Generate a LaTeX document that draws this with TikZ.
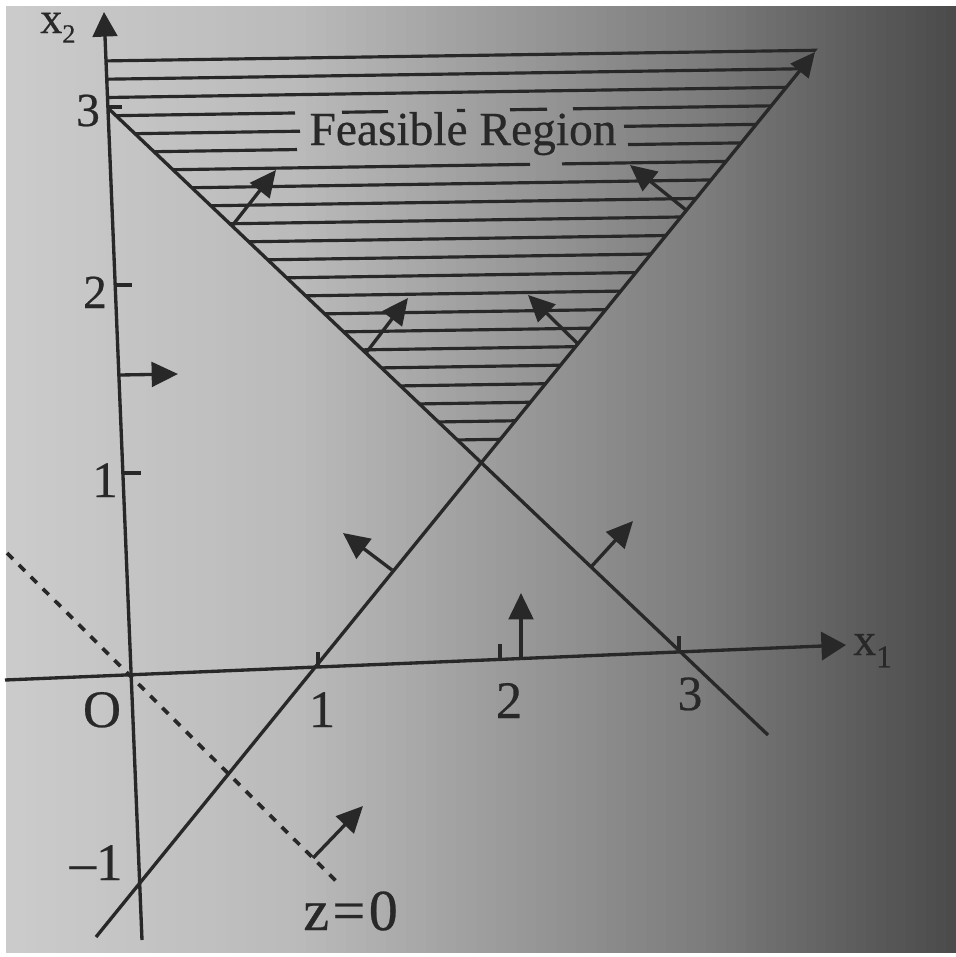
\documentclass[tikz,border=0pt]{standalone}
\usepackage{fontspec}
\setmainfont{Liberation Serif}[FakeBold=0.5]
\usetikzlibrary{arrows.meta}
\definecolor{ink}{HTML}{282828}
\newcommand\hy[2]{58+18.3*#1-0.015*(#2-300)}
\begin{document}
\begin{tikzpicture}[x=0.02cm, y=-0.02cm,
  ln/.style={draw=ink, line width=1.9pt},
  hatch/.style={draw=ink, line width=1.8pt},
  nrm/.style={draw=ink, line width=1.9pt, -{Triangle[length=15pt,width=14pt]}},
  lbl/.style={text=ink, inner sep=0pt},
]
\useasboundingbox (0,0) rectangle (956,957);
\fill[white] (0,0) rectangle (956,957);
% photographed paper background
\foreach \i in {0,...,94} {
  \pgfmathsetmacro{\xx}{6+\i*10+5}
  \pgfmathsetmacro{\g}{\xx<300 ? 0.80-0.07*\xx/300 : (\xx<500 ? 0.73-0.12*(\xx-300)/200 : (\xx<700 ? 0.61-0.12*(\xx-500)/200 : (\xx<850 ? 0.49-0.12*(\xx-700)/150 : 0.37-0.08*(\xx-850)/106)))}
  \definecolor{bgc}{gray}{\g}
  \fill[bgc] ({6+\i*10},6) rectangle ({6+\i*10+10.6},953);
}
% key points
\coordinate (x1s) at (5,680);
\coordinate (x1e) at (846,645);
\coordinate (x2s) at (142,940);
\coordinate (x2e) at (104,12);
\coordinate (L1a) at (96,937);
\coordinate (L1b) at (815,52);
\coordinate (L2a) at (109,109);
\coordinate (L2b) at (768,735);
\coordinate (P) at (481.3,462.7);
\coordinate (D1) at (7,553);
\coordinate (D2) at (340,885);
% hatching of the feasible region
\begin{scope}
\clip (104.5,30) -- (833,30) -- (P) -- (L2a) -- cycle;
\foreach \k in {0,1,2} {\draw[hatch] (90,{\hy{\k}{90}}) -- (850,{\hy{\k}{850}});}
\foreach \k in {7,...,21} {\draw[hatch] (90,{\hy{\k}{90}}) -- (850,{\hy{\k}{850}});}
\foreach \k/\a/\b in {3/90/295, 3/342/388, 3/457/465, 3/510/547, 3/573/850,
                      4/90/300, 4/624/850, 5/90/297, 5/628/850,
                      6/90/530, 6/562/850}
  {\draw[hatch] (\a,{\hy{\k}{\a}}) -- (\b,{\hy{\k}{\b}});}
\end{scope}
\node[lbl, anchor=base] (fr) at (463,145) {\fontsize{27}{30}\selectfont Feasible Region};
% axes
\draw[ln, -{Triangle[length=14pt,width=16pt]}] (x1s) -- (x1e);
\draw[ln, -{Triangle[length=14pt,width=14pt]}] (x2s) -- (x2e);
% ticks
\draw[ln] (318,667) -- (318,652);
\draw[ln] (500,659.4) -- (500,644);
\draw[ln] (679,652) -- (679,636);
\draw[ln] (107.9,107) -- (122,107);
\draw[ln] (115.2,285) -- (132,285);
\draw[ln] (122.9,473) -- (141,473);
% constraint lines
\draw[ln, -{Triangle[length=14pt,width=13pt]}] (L1a) -- (L1b);
\draw[ln] (L2a) -- (L2b);
\draw[ink, line width=2.1pt, dash pattern=on 4.8pt off 4.8pt] (D1) -- (D2);
% direction arrows
\coordinate (a1s) at (120,375);   \coordinate (a1e) at (178,374);
\coordinate (a2s) at (232,226);   \coordinate (a2e) at (276,170);
\coordinate (a3s) at (366,353);   \coordinate (a3e) at (408,298);
\coordinate (a4s) at (686,210);   \coordinate (a4e) at (630,165);
\coordinate (a5s) at (577,343);   \coordinate (a5e) at (528,295);
\coordinate (a6s) at (392,570);   \coordinate (a6e) at (343,533);
\coordinate (a7s) at (591,567);   \coordinate (a7e) at (633,521);
\coordinate (a8s) at (521,658.5); \coordinate (a8e) at (521,593);
\coordinate (a9s) at (313,858);   \coordinate (a9e) at (363,806);
\foreach \n in {1,...,9} {\draw[nrm] (a\n s) -- (a\n e);}
% labels
\node[lbl, anchor=base west] (lx2) at (40,33) {\fontsize{25}{25}\selectfont x\raisebox{-5.5pt}{\fontsize{15}{15}\selectfont 2}};
\node[lbl, anchor=base west] (lx1) at (853,655) {\fontsize{26}{26}\selectfont x\raisebox{-7pt}{\fontsize{18}{18}\selectfont 1}};
\node[lbl, anchor=base] (ly3) at (88,126) {\fontsize{27}{27}\selectfont 3};
\node[lbl, anchor=base] (ly2) at (95,308) {\fontsize{27}{27}\selectfont 2};
\node[lbl, anchor=base] (ly1) at (105,497) {\fontsize{29}{29}\selectfont 1};
\node[lbl, anchor=base] (lO) at (102,727) {\fontsize{30}{30}\selectfont O};
\node[lbl, anchor=base] (lx11) at (322,727) {\fontsize{30}{30}\selectfont 1};
\node[lbl, anchor=base] (lx12) at (509,718) {\fontsize{30}{30}\selectfont 2};
\node[lbl, anchor=base] (lx13) at (690,710) {\fontsize{28}{28}\selectfont 3};
\node[lbl, anchor=base] (lym1) at (97,880) {\fontsize{30}{30}\selectfont \kern-1pt–1};
\node[lbl, anchor=base west] (lz) at (303,930) {\fontsize{33}{33}\selectfont z\kern2pt=\kern2pt0};
\end{tikzpicture}
\end{document}
